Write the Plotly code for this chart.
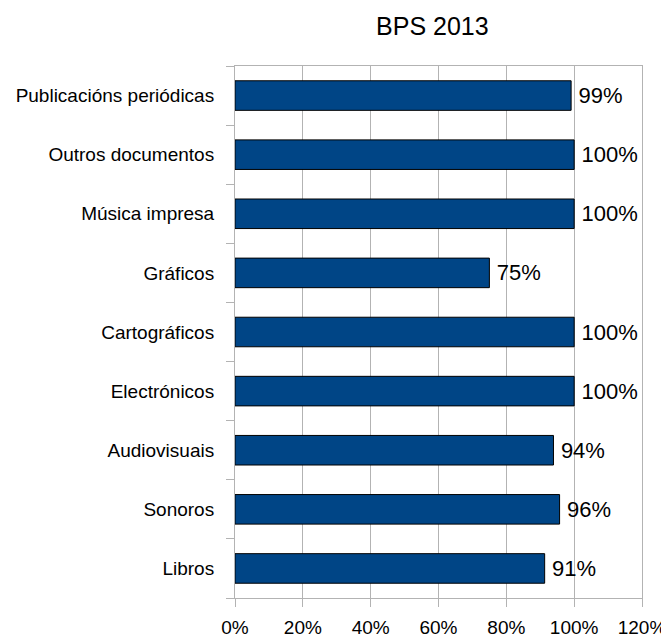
import plotly.graph_objects as go

categories = ["Libros", "Sonoros", "Audiovisuais", "Electrónicos", "Cartográficos",
              "Gráficos", "Música impresa", "Outros documentos", "Publicacións periódicas"]
values = [91.3, 95.7, 93.9, 100, 100, 75.0, 100, 100, 99.1]
x_ticks = [0, 20, 40, 60, 80, 100, 120]
x_tick_labels = ["0%", "20%", "40%", "60%", "80%", "100%", "120%"]
title_text = "BPS 2013"

FONT = "Liberation Sans, Arial, sans-serif"
GRID = "#b3b3b3"

# page body has an 8px default margin, so offsets are compensated
fig = go.Figure(go.Bar(
    y=categories, x=values, orientation="h",
    marker=dict(color="#004586", line=dict(color="#000000", width=1)),
    text=["\u2009" + f"{round(v)}%" for v in values],
    textposition="outside",
    textfont=dict(family=FONT, size=22, color="#000000"),
    cliponaxis=False,
    width=0.5,
))

fig.update_layout(
    width=669, height=637, autosize=False,
    margin=dict(l=227, r=35, t=58, b=47),
    paper_bgcolor="white", plot_bgcolor="white",
    font=dict(family=FONT, color="#000000"),
    title=dict(text=title_text, x=0.485, xref="paper", y=1 - 18 / 637, yref="container",
               yanchor="middle", xanchor="center",
               font=dict(family=FONT, size=25, color="#000000")),
    showlegend=False,
    bargap=0.5,
)
fig.update_xaxes(
    range=[0, 120], tickvals=x_ticks, ticktext=x_tick_labels,
    showgrid=True, gridcolor=GRID, gridwidth=1,
    showline=True, linecolor=GRID, linewidth=1, mirror=True,
    ticks="outside", ticklen=8, tickcolor=GRID,
    tickfont=dict(family=FONT, size=19, color="#000000"),
    ticklabelstandoff=4,
    zeroline=False, fixedrange=True, automargin=False,
)
fig.update_yaxes(
    categoryorder="array", categoryarray=categories,
    showgrid=False,
    showline=True, linecolor=GRID, linewidth=1, mirror=True,
    ticks="outside", ticklen=8, tickcolor=GRID, tickson="boundaries",
    tickfont=dict(family=FONT, size=19, color="#000000"),
    ticklabelstandoff=16,
    fixedrange=True, automargin=False,
)

fig.write_html("out.html")
